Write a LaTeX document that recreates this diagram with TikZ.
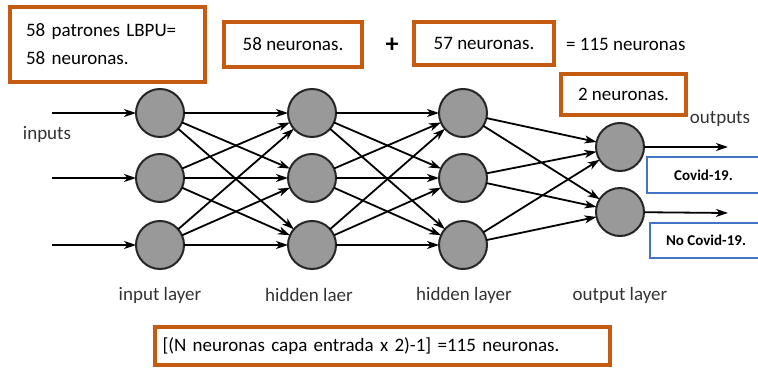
\documentclass[tikz,border=0pt]{standalone}
\usepackage{fontspec}
\setmainfont{Carlito}
\usetikzlibrary{arrows.meta}
\definecolor{orng}{HTML}{C55A11}
\definecolor{blu}{HTML}{4472C4}
\definecolor{nfill}{HTML}{999999}
\begin{document}
\begin{tikzpicture}[x=1pt,y=-1pt,
 obox/.style={draw=orng,line width=3.5pt,inner sep=0pt,font=\fontsize{19}{28}\selectfont},
 bbox/.style={draw=blu,line width=1.6pt,inner sep=0pt,font=\bfseries\fontsize{15}{18}\selectfont},
 neuron/.style={circle,draw=black!85,line width=2pt,fill=nfill,minimum size=48pt,inner sep=0pt,outer sep=0pt},
 conn/.style={line width=1.8pt,-{Stealth[length=12pt,width=8pt,inset=3.5pt]}},
 lbl/.style={font=\fontsize{19}{22}\selectfont,text=black!80,inner sep=0pt},
 txt/.style={font=\fontsize{19}{22}\selectfont,inner sep=0pt}]
\useasboundingbox (0,0) rectangle (758,367);
\clip (0,0) rectangle (758,367);

% orange boxes
\node[obox,minimum width=195pt,minimum height=75pt,align=left,text width=163pt] (b1) at (107.5,44.5) {58 patrones LBPU=\\58 neuronas.};
\node[obox,minimum width=138pt,minimum height=45pt] (b2) at (293,44.5) {58 neuronas.};
\node[font=\bfseries\fontsize{26}{26}\selectfont,inner sep=0pt] (plus) at (392,45) {+};
\node[obox,minimum width=140pt,minimum height=43pt] (b3) at (484,43.5) {57 neuronas.};
\node[txt,anchor=west] (tot) at (566,44) {= 115 neuronas};
\node[obox,minimum width=125pt,minimum height=41pt] (b4) at (623.5,94.5) {2 neuronas.};
\node[obox,minimum width=455pt,minimum height=38pt,align=left,text width=440pt] (b5) at (382.5,346) {[(N neuronas capa entrada x 2)-1] =115 neuronas.};

% neurons
\foreach \n/\x/\y in {i1/160/113,i2/160/178,i3/160/245,
                      h1/312/113,h2/312/178,h3/312/245,
                      g1/463/113,g2/463/178,g3/463/245,
                      o1/620/147,o2/620/212}
  \node[neuron] (\n) at (\x,\y) {};

% inputs / outputs
\coordinate (in1) at (52,113);
\coordinate (in2) at (52,178);
\coordinate (in3) at (52,245);
\coordinate (out1) at (728,147);
\coordinate (out2) at (728,213);
\draw[conn] (in1) -- (i1);
\draw[conn] (in2) -- (i2);
\draw[conn] (in3) -- (i3);
\draw[conn] (o1) -- (out1);
\draw[conn] (o2) -- (out2);

% connections
\foreach \a in {i1,i2,i3}
  \foreach \b in {h1,h2,h3}
    \draw[conn] (\a) -- (\b);
\foreach \a in {h1,h2,h3}
  \foreach \b in {g1,g2,g3}
    \draw[conn] (\a) -- (\b);
\foreach \a in {g1,g2,g3}
  \foreach \b in {o1,o2}
    \draw[conn] (\a) -- (\b);

% labels
\node[lbl] (linp) at (47,134) {inputs};
\node[lbl] (lout) at (720,119) {outputs};
\node[lbl] (l1) at (160,295) {input layer};
\node[lbl] (l2) at (309,295) {hidden laer};
\node[lbl] (l3) at (464,295) {hidden layer};
\node[lbl] (l4) at (620,295) {output layer};

% blue boxes
\node[bbox,minimum width=113pt,minimum height=36pt] (c1) at (703.5,175) {Covid-19.};
\node[bbox,minimum width=112pt,minimum height=35pt] (c2) at (706,240.5) {No Covid-19.};
\end{tikzpicture}
\end{document}
